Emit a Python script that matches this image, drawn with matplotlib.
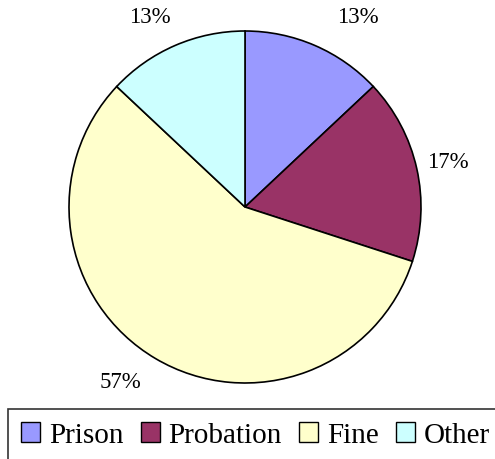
import matplotlib
matplotlib.use("Agg")
import matplotlib.pyplot as plt

plt.rcParams["font.family"] = ["Liberation Serif", "DejaVu Serif"]

categories = ["Prison", "Probation", "Fine", "Other"]
values = [13, 17, 57, 13]
pct_labels = ["13%", "17%", "57%", "13%"]
colors = ["#9999FF", "#993366", "#FFFFCC", "#CCFFFF"]

W, H = 495, 460
fig = plt.figure(figsize=(W / 100, H / 100), dpi=100)
cx, cy, r = 245, 208, 176
ax = fig.add_axes([(cx - r) / W, (H - cy - r) / H, 2 * r / W, 2 * r / H])

wedges, texts = ax.pie(values, colors=colors, startangle=90, counterclock=False,
                       radius=1, labels=pct_labels, labeldistance=1.2,
                       wedgeprops=dict(edgecolor="black", linewidth=1.2),
                       textprops=dict(fontsize=16.5))
label_pos = [(0.64, 1.08), (1.15, 0.26), (-0.71, -0.99), (-0.54, 1.08)]
for t, p in zip(texts, label_pos):
    t.set_position(p)
    t.set_ha("center")
    t.set_va("center")
ax.set_xlim(-1, 1)
ax.set_ylim(-1, 1)
ax.set_aspect("equal")
ax.axis("off")

leg = fig.legend(wedges, categories, loc="upper left",
                 bbox_to_anchor=(8 / W, 1 - 410 / H), ncol=4,
                 frameon=True, fancybox=False, edgecolor="black",
                 fontsize=21,
                 handlelength=0.65, handleheight=0.65, handletextpad=0.3,
                 columnspacing=0.6, borderpad=0.45, borderaxespad=0)
leg.get_frame().set_linewidth(1.2)
for h in leg.legend_handles:
    h.set_edgecolor("black")
    h.set_linewidth(1.0)

fig.savefig("out.png", dpi=100)
